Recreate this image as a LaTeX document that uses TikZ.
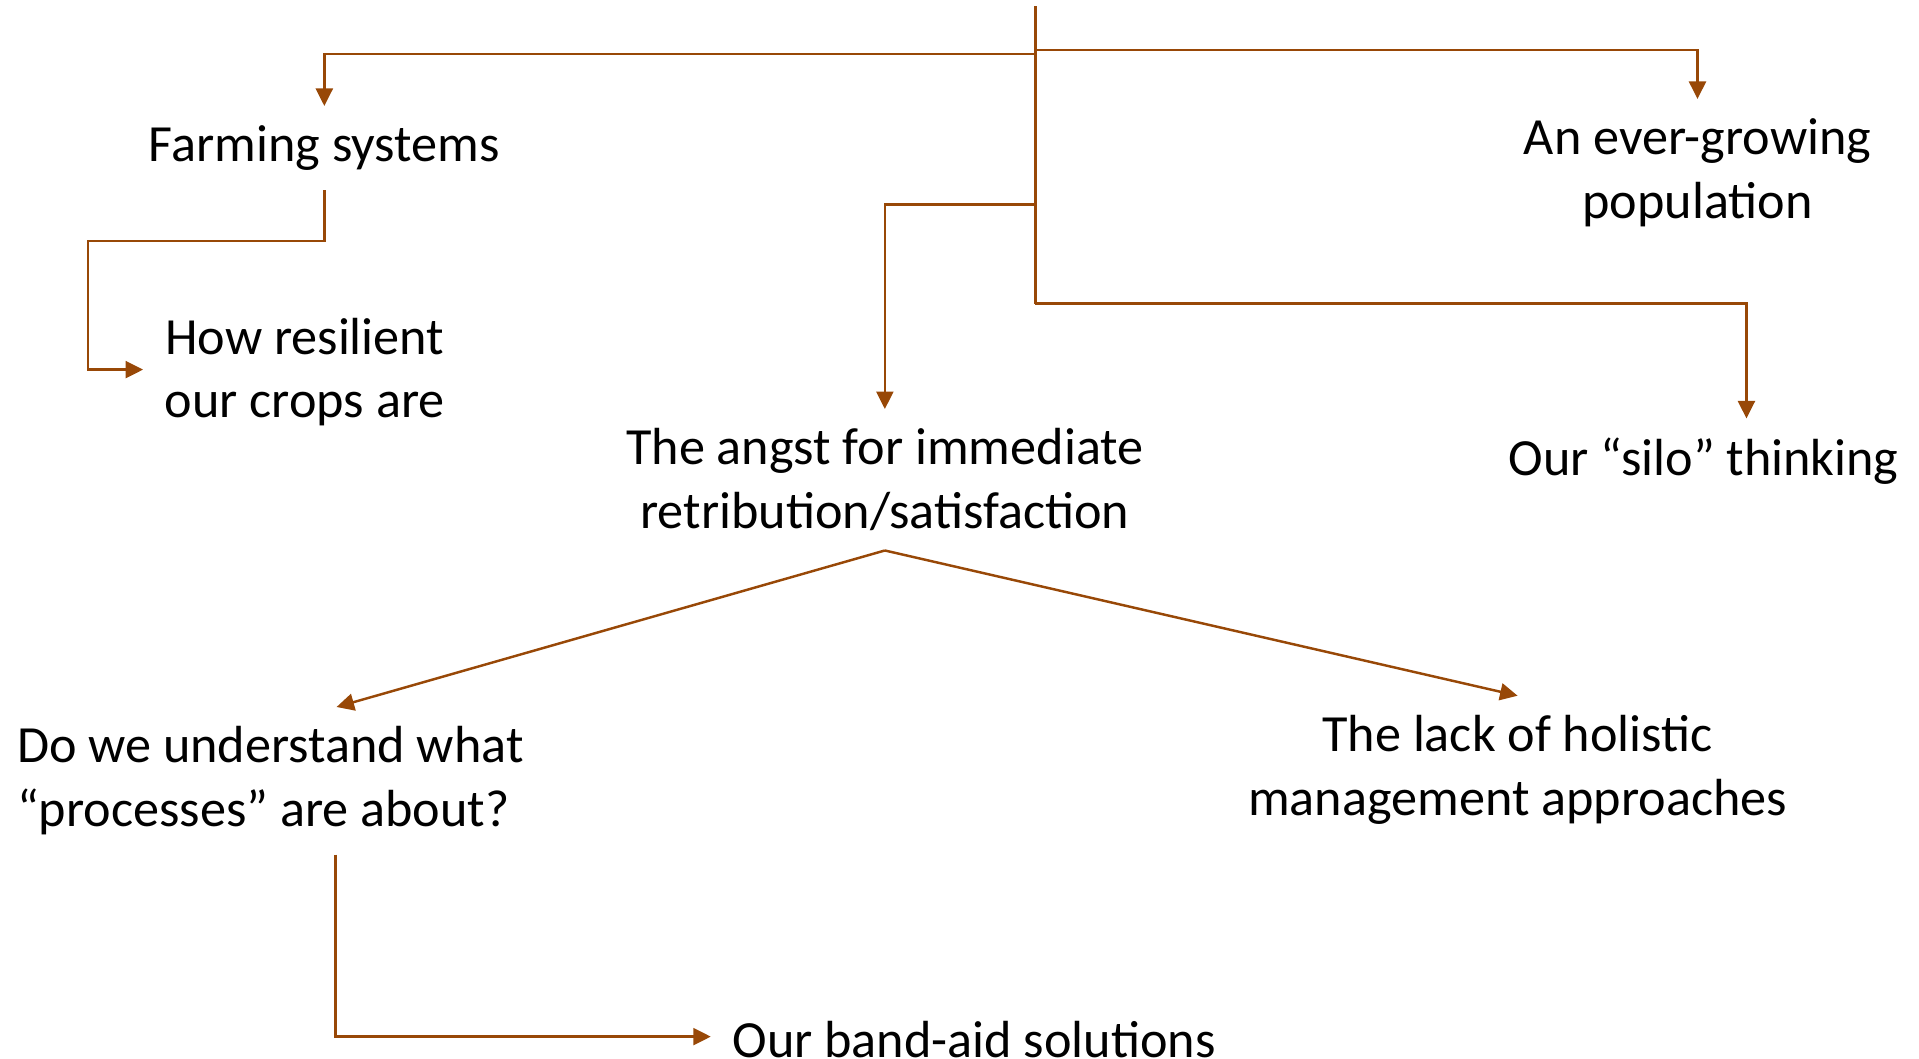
\documentclass[tikz,border=0pt]{standalone}
\usepackage{fontspec}
\setmainfont{Carlito}
\usetikzlibrary{arrows.meta,calc}
\definecolor{rootbrown}{RGB}{152,72,7}
\tikzset{
  idea/.style={font=\fontsize{14.85}{18.1}\selectfont, align=center, inner xsep=6pt, inner ysep=5.4pt},
  link/.style={draw=rootbrown, line width=0.7pt},
  arr/.style={link, -{Triangle[length=1.75mm,width=1.7mm]}},
}
\begin{document}
\begin{tikzpicture}[x=0.012239cm, y=-0.012239cm]
            \useasboundingbox (0,0) rectangle (1568,865);

            \node[idea] (farm) at (265,121) {Farming systems};
            \node[idea] (ever) at (1387,141) {An ever-growing\\population};
            \node[idea] (res) at (249,304) {How resilient\\our crops are};
            \node[idea] (angst) at (723,392) {The angst for immediate\\retribution/satisfaction};
            \node[idea] (silo) at (1392,377) {Our “silo” thinking};
            \node[idea, align=left] (doq) at (221,638) {Do we understand what\\“processes” are about?};
            \node[idea] (lack) at (1240,629) {The lack of holistic\\management approaches};
            \node[idea] (band) at (796,849) {Our band-aid solutions};

            \coordinate (top) at (846,5);
            \coordinate (jl) at (846,44);
            \coordinate (jr) at (846,41);
            \coordinate (ja) at (846,167);
            \coordinate (hub) at (846,248);
            \coordinate (bend) at (72,197);

            \draw[link] (top) -- (hub);
            \draw[arr] (jl) -| (farm.north); \draw[arr] (jr) -| (ever.north);
            \draw[arr] (ja) -| (angst.north); \draw[arr] (hub) -| ($(silo.north)+(35,0)$);
            \draw[arr] (farm.south) |- (bend) |- ($(res.west)+(0,-2)$);
            \draw[arr] (angst.south) -- ($(doq.north)+(54,0)$); \draw[arr] (angst.south) -- (lack.north);
            \draw[arr] ($(doq.south)+(53,0)$) |- ($(band.west)+(0,-2)$);
        \end{tikzpicture}
\end{document}
